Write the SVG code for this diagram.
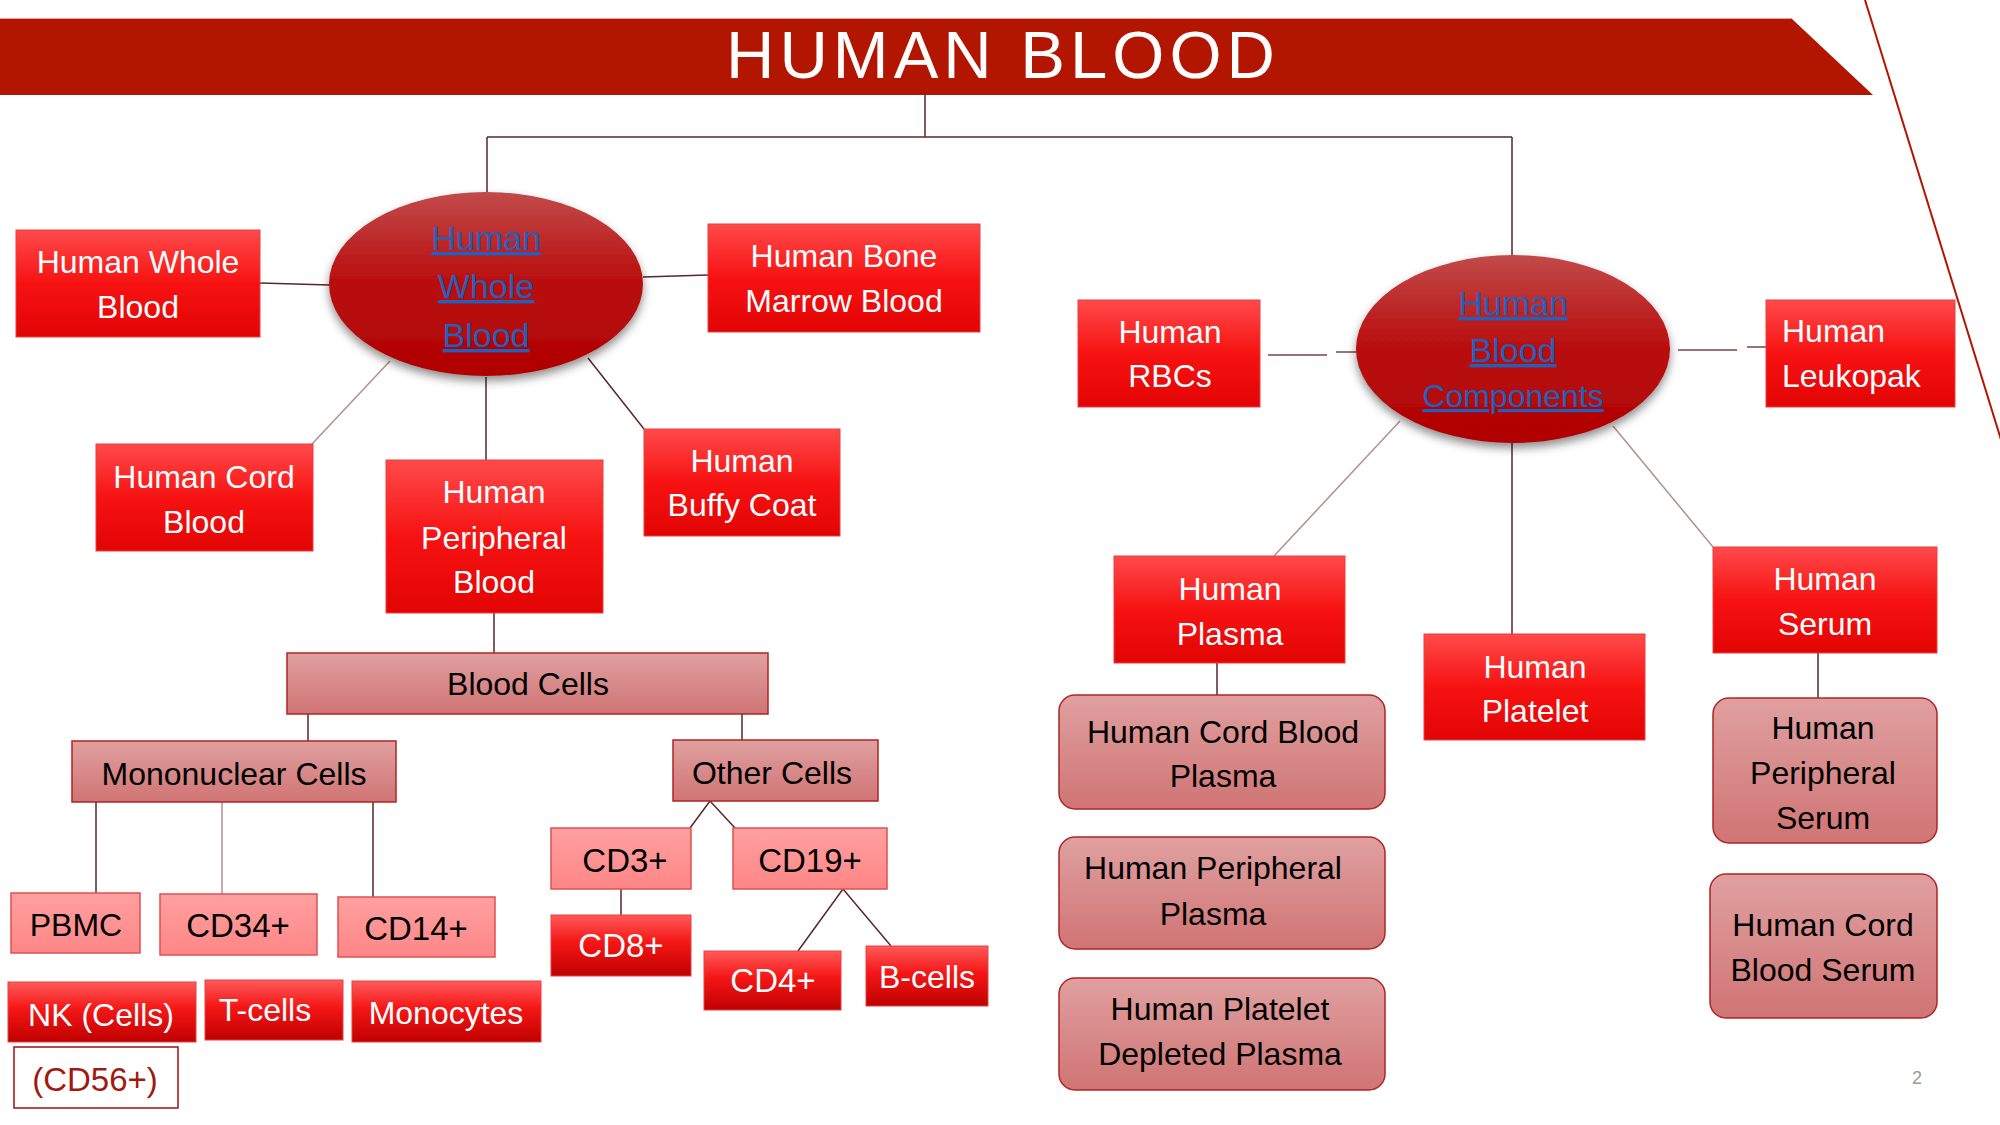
<svg xmlns="http://www.w3.org/2000/svg" width="2000" height="1125" viewBox="0 0 2000 1125">
<defs>
<linearGradient id="gRed" x1="0" y1="0" x2="0" y2="1">
<stop offset="0" stop-color="#ff4a4a"/><stop offset="0.5" stop-color="#f71212"/><stop offset="1" stop-color="#e20404"/>
</linearGradient>
<linearGradient id="gDark" x1="0" y1="0" x2="0" y2="1">
<stop offset="0" stop-color="#ff5a5a"/><stop offset="0.45" stop-color="#f51616"/><stop offset="1" stop-color="#bf0000"/>
</linearGradient>
<linearGradient id="gPink" x1="0" y1="0" x2="0" y2="1">
<stop offset="0" stop-color="#e0a0a0"/><stop offset="1" stop-color="#d07474"/>
</linearGradient>
<linearGradient id="gLight" x1="0" y1="0" x2="0" y2="1">
<stop offset="0" stop-color="#ffa0a0"/><stop offset="1" stop-color="#ff8686"/>
</linearGradient>
<linearGradient id="gEll" x1="0" y1="0" x2="0" y2="1">
<stop offset="0" stop-color="#c24a4a"/><stop offset="0.45" stop-color="#ba1212"/><stop offset="1" stop-color="#b00000"/>
</linearGradient>
<filter id="sh" x="-20%" y="-20%" width="140%" height="150%">
<feDropShadow dx="0" dy="5" stdDeviation="5" flood-color="#000" flood-opacity="0.45"/>
</filter>
<style>
text{font-family:"Liberation Sans",Arial,sans-serif;text-anchor:middle}
.rb{fill:url(#gRed);stroke:#e84040;stroke-width:1}
.db{fill:url(#gDark);stroke:#e84040;stroke-width:1}
.pb{fill:url(#gPink);stroke:#b02525;stroke-width:1.5}
.lp{fill:url(#gLight);stroke:#e05050;stroke-width:1.5}
.ell{fill:url(#gEll);filter:url(#sh)}
.w{fill:#fff;font-size:32px}
.k{fill:#000;font-size:32px}
.k2{fill:#000;font-size:33px}
.lnk{fill:#2260bb;font-size:34px;text-decoration:underline}
.c{stroke:#5a2828;stroke-width:1.5;fill:none}
.cl{stroke:#b09090;stroke-width:1.5;fill:none}
.cd{stroke:#7a4444;stroke-width:2;fill:none;opacity:0.75}
</style>
</defs>
<rect width="2000" height="1125" fill="#fff"/>
<g id="banner">
<polygon points="0,18 1791,18 1873,95 0,95" fill="#b21500"/>
<line x1="0" y1="18.5" x2="1791" y2="18.5" stroke="#f0a0a0" stroke-width="1"/>
<text x="1003" y="78" fill="#fff" style="font-size:67px;letter-spacing:5px">HUMAN BLOOD</text>
</g>
<line x1="1865" y1="0" x2="2003" y2="446" stroke="#b21500" stroke-width="2"/>
<g id="connectors">
<path class="c" d="M925 95V137M487 137H1512M487 137V192M1512 137V255"/>
<path class="c" d="M260 283L330 285M643 277L708 275"/>
<path class="cl" d="M390 361L312 444"/>
<path class="c" d="M486 377V460M588 358L644 429"/>
<path class="c" d="M494 613V653M308 714V741M742 714V740"/>
<path class="c" d="M96 802V893M373 802V897"/>
<path class="cl" d="M222 802V894"/>
<path class="c" d="M710 801L690 828M710 801L735 828M621 889V915M843 889L798 951M843 889L891 946"/>
<path class="cd" d="M1268 355H1327M1336 352H1359M1678 350H1737M1747 347H1769"/>
<path class="cl" d="M1400 421L1274 556M1613 426L1713 547"/>
<path class="c" d="M1512 443V634M1217 663V695M1818 653V698"/>
</g>
<g id="e-whole">
<ellipse class="ell" cx="486" cy="284" rx="157" ry="92"/>
<text class="lnk" x="486" y="250">Human</text>
<text class="lnk" x="486" y="298">Whole</text>
<text class="lnk" x="486" y="347">Blood</text>
</g>
<g id="e-comp">
<ellipse class="ell" cx="1513" cy="349" rx="157" ry="94"/>
<text class="lnk" x="1513" y="315">Human</text>
<text class="lnk" x="1513" y="362">Blood</text>
<text class="lnk" x="1513" y="407" style="font-size:32px">Components</text>
</g>
<g id="n-wholeblood"><rect class="rb" x="16" y="230" width="244" height="107"/><text class="w" x="138" y="273">Human Whole</text><text class="w" x="138" y="318">Blood</text></g>
<g id="n-bonemarrow"><rect class="rb" x="708" y="224" width="272" height="108"/><text class="w" x="844" y="267">Human Bone</text><text class="w" x="844" y="312">Marrow Blood</text></g>
<g id="n-cord"><rect class="rb" x="96" y="444" width="217" height="107"/><text class="w" x="204" y="488">Human Cord</text><text class="w" x="204" y="533">Blood</text></g>
<g id="n-peripheral"><rect class="rb" x="386" y="460" width="217" height="153"/><text class="w" x="494" y="503">Human</text><text class="w" x="494" y="549">Peripheral</text><text class="w" x="494" y="593">Blood</text></g>
<g id="n-buffy"><rect class="rb" x="644" y="429" width="196" height="107"/><text class="w" x="742" y="472">Human</text><text class="w" x="742" y="516">Buffy Coat</text></g>
<g id="n-bloodcells"><rect class="pb" x="287" y="653" width="481" height="61"/><text class="k" x="528" y="695">Blood Cells</text></g>
<g id="n-mono"><rect class="pb" x="72" y="741" width="324" height="61"/><text class="k" x="234" y="785">Mononuclear Cells</text></g>
<g id="n-other"><rect class="pb" x="673" y="740" width="205" height="61"/><text class="k" x="772" y="784">Other Cells</text></g>
<g id="n-pbmc"><rect class="lp" x="11" y="893" width="129" height="60"/><text class="k" x="76" y="936">PBMC</text></g>
<g id="n-cd34"><rect class="lp" x="160" y="894" width="157" height="61"/><text class="k2" x="238" y="937">CD34+</text></g>
<g id="n-cd14"><rect class="lp" x="338" y="897" width="157" height="60"/><text class="k2" x="416" y="940">CD14+</text></g>
<g id="n-cd3"><rect class="lp" x="551" y="828" width="140" height="61"/><text class="k2" x="625" y="872">CD3+</text></g>
<g id="n-cd19"><rect class="lp" x="733" y="828" width="154" height="61"/><text class="k2" x="810" y="872">CD19+</text></g>
<g id="n-cd8"><rect class="db" x="551" y="915" width="140" height="61"/><text class="w" x="621" y="957" style="font-size:33px">CD8+</text></g>
<g id="n-cd4"><rect class="db" x="704" y="951" width="137" height="59"/><text class="w" x="773" y="992" style="font-size:33px">CD4+</text></g>
<g id="n-bcells"><rect class="db" x="866" y="946" width="122" height="60"/><text class="w" x="927" y="988">B-cells</text></g>
<g id="n-nk"><rect class="db" x="8" y="982" width="188" height="60"/><text class="w" x="101" y="1026">NK (Cells)</text></g>
<g id="n-tcells"><rect class="db" x="205" y="980" width="138" height="60"/><text class="w" x="265" y="1021">T-cells</text></g>
<g id="n-monocytes"><rect class="db" x="352" y="981" width="189" height="61"/><text class="w" x="446" y="1024">Monocytes</text></g>
<g id="n-cd56"><rect x="14" y="1047" width="164" height="61" fill="#fff" stroke="#a01010" stroke-width="1.5"/><text x="95" y="1091" style="font-size:33px;fill:#a01a10">(CD56+)</text></g>
<g id="n-rbc"><rect class="rb" x="1078" y="300" width="182" height="107"/><text class="w" x="1170" y="343">Human</text><text class="w" x="1170" y="387">RBCs</text></g>
<g id="n-leukopak"><rect class="rb" x="1766" y="300" width="189" height="107"/><text class="w" x="1782" y="342" style="text-anchor:start">Human</text><text class="w" x="1782" y="387" style="text-anchor:start">Leukopak</text></g>
<g id="n-plasma"><rect class="rb" x="1114" y="556" width="231" height="107"/><text class="w" x="1230" y="600">Human</text><text class="w" x="1230" y="645">Plasma</text></g>
<g id="n-platelet"><rect class="rb" x="1424" y="634" width="221" height="106"/><text class="w" x="1535" y="678">Human</text><text class="w" x="1535" y="722">Platelet</text></g>
<g id="n-serum"><rect class="rb" x="1713" y="547" width="224" height="106"/><text class="w" x="1825" y="590">Human</text><text class="w" x="1825" y="635">Serum</text></g>
<g id="n-cbplasma"><rect class="pb" x="1059" y="695" width="326" height="114" rx="16"/><text class="k" x="1223" y="743">Human Cord Blood</text><text class="k" x="1223" y="787">Plasma</text></g>
<g id="n-pplasma"><rect class="pb" x="1059" y="837" width="326" height="112" rx="16"/><text class="k" x="1213" y="879">Human Peripheral</text><text class="k" x="1213" y="925">Plasma</text></g>
<g id="n-pdplasma"><rect class="pb" x="1059" y="978" width="326" height="112" rx="16"/><text class="k" x="1220" y="1020">Human Platelet</text><text class="k" x="1220" y="1065">Depleted Plasma</text></g>
<g id="n-pserum"><rect class="pb" x="1713" y="698" width="224" height="145" rx="16"/><text class="k" x="1823" y="739">Human</text><text class="k" x="1823" y="784">Peripheral</text><text class="k" x="1823" y="829">Serum</text></g>
<g id="n-cbserum"><rect class="pb" x="1710" y="874" width="227" height="144" rx="16"/><text class="k" x="1823" y="936">Human Cord</text><text class="k" x="1823" y="981">Blood Serum</text></g>
<text x="1917" y="1084" style="font-size:18px;fill:#999">2</text>
</svg>
